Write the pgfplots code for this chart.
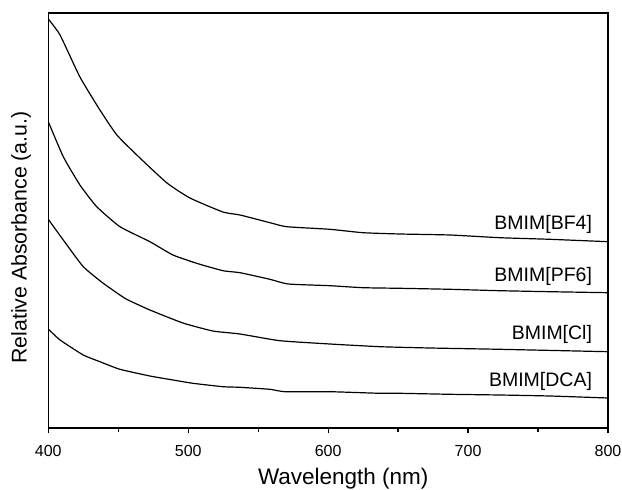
\documentclass[border=0pt]{standalone}
\usepackage{fontspec}
\setmainfont{Liberation Sans}
\usepackage{pgfplots}
\pgfplotsset{compat=1.18}
\begin{document}
\begin{tikzpicture}
\begin{axis}[
  name=ax,
  scale only axis,
  width=559.7bp, height=415bp,
  xmin=400, xmax=800, ymin=0, ymax=415,
  axis line style={line width=1.5bp},
  xtick={400,500,600,700,800},
  minor xtick={450,550,650,750},
  ytick=\empty,
  tick align=outside,
  xtick pos=left,
  major tick length=5bp, minor tick length=3.5bp,
  every tick/.style={line width=1.3bp, black},
  /pgf/number format/assume math mode=true,
  /pgf/number format/1000 sep={},
  ticklabel style={font=\fontsize{16bp}{19bp}\selectfont},
  xticklabel style={yshift=-9bp},
  xlabel={Wavelength (nm)},
  ylabel={Relative Absorbance (a.u.)},
  xlabel style={font=\fontsize{22.5bp}{27bp}\selectfont, at={(axis description cs:0.527,-0.137)}, anchor=base},
  ylabel style={font=\fontsize{21.3bp}{25bp}\selectfont, at={(axis description cs:-0.0386,0.459)}, anchor=base},
]
% BMIM[BF4]
\addplot[black, line width=1.2bp, smooth, tension=0.3] coordinates {
(400,409) (408.4,393) (422.6,351) (436.9,318) (449,293) (465.5,270) (484.8,245)
(501.2,230) (524.8,216) (537,213) (558.4,205.3) (570.3,201.3) (601.2,198.7)
(624.8,195.3) (651.2,194) (687,193) (722.6,190.3) (758.4,188.7) (800,186.3)};
% BMIM[PF6]
\addplot[black, line width=1.2bp, smooth, tension=0.3] coordinates {
(400,306.3) (410.7,271.3) (422.6,243) (434.6,221.3) (451.2,201.3) (472.6,186.3)
(489.1,173) (506,164.7) (524.8,157.3) (537,155.3) (558.4,148.7) (571.4,144)
(601.2,142.3) (624.8,140.3) (651.2,139.7) (687,138.7) (722.6,137.3) (758.4,136.3) (800,135.3)};
% BMIM[Cl]
\addplot[black, line width=1.2bp, smooth, tension=0.3] coordinates {
(400,208.7) (410.7,188) (425,161.3) (439,145) (451.2,133) (457,128) (472.6,118)
(496.2,105) (517.6,97) (537,94) (565.5,87.3) (601.2,84) (636.9,81.3) (672.6,80)
(722.6,78.7) (800,76.3)};
% BMIM[DCA]
\addplot[black, line width=1.2bp, smooth, tension=0.3] coordinates {
(400,99) (408.4,88) (425,73) (436.9,66.3) (451.2,58.7) (472.6,52) (489.1,48)
(503.4,44.7) (524.8,41.3) (537,40.7) (558.4,38.7) (569.1,36.3) (601.2,36.3)
(636.9,34.7) (651.2,34.7) (687,33.7) (722.6,33) (758.4,32) (800,30)};
\begin{scope}[every node/.style={font=\fontsize{19.5bp}{23bp}\selectfont, inner sep=0pt, anchor=base east}]
\node at (axis cs:788.7,198.7) {BMIM[BF4]};
\node at (axis cs:788.7,146.3) {BMIM[PF6]};
\node at (axis cs:788.7,88.7) {BMIM[Cl]};
\node at (axis cs:788.7,41.3) {BMIM[DCA]};
\end{scope}
\end{axis}
\pgfresetboundingbox
\path ([shift={(-48.3bp,-62bp)}]ax.south west) rectangle ([shift={(14bp,13bp)}]ax.north east);
\end{tikzpicture}
\end{document}
